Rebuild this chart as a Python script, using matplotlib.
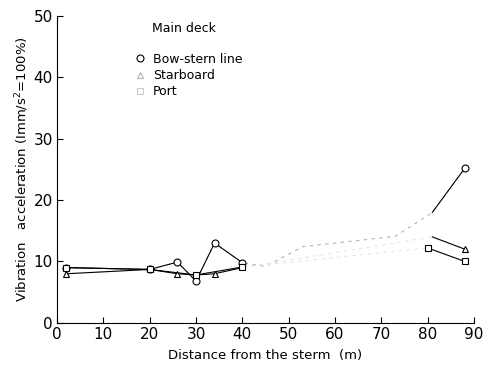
import matplotlib
matplotlib.use("Agg")
import matplotlib.pyplot as plt
from matplotlib.lines import Line2D

plt.rcParams['font.family'] = ['DejaVu Sans']

# distance from the stern (m) / vibration acceleration (%)
bow_x = [2, 20, 26, 30, 34, 40, 45, 53, 73, 81, 88]
bow_y = [9.0, 8.7, 9.9, 6.8, 13.0, 9.8, 9.2, 12.4, 14.1, 18.0, 25.2]
bow_marks = [0, 1, 2, 3, 4, 5, 10]

stb_x = [2, 20, 26, 30, 34, 40, 81, 88]
stb_y = [8.0, 8.7, 8.0, 7.8, 8.0, 9.0, 14.0, 12.0]
stb_marks = [0, 2, 4, 7]

port_x = [2, 20, 30, 40, 80, 88]
port_y = [9.0, 8.7, 7.8, 9.1, 12.2, 10.0]
port_marks = [0, 1, 2, 3, 4, 5]

fig = plt.figure(figsize=(4.85, 3.69), dpi=100)
ax = fig.add_axes([0.1175, 0.125, 0.86, 0.832])

def series(x, y, marker, marks, clear_to, faint):
  # whole line faint (scan faded), then the readable parts in black
  ax.plot(x, y, color=faint, lw=0.8, ls=(0, (3, 4)), zorder=1)
  ax.plot(x[:clear_to], y[:clear_to], color='black', lw=0.8, zorder=2)
  ax.plot(x[-2:], y[-2:], color='black', lw=0.8, zorder=2)
  ax.plot(x, y, ls='none', marker=marker, markevery=marks, ms=5,
          mfc='white', mec='black', mew=0.8, zorder=3)

series(bow_x, bow_y, 'o', bow_marks, 6, '0.7')
series(stb_x, stb_y, '^', stb_marks, 6, '0.9')
series(port_x, port_y, 's', port_marks, 4, '0.9')

ax.set_xlim(0, 90)
ax.set_ylim(0, 50)
ax.set_xticks(range(0, 91, 10))
ax.set_yticks(range(0, 51, 10))
ax.spines['top'].set_visible(False)
ax.spines['right'].set_visible(False)
ax.tick_params(direction='in', length=4, width=0.8, labelsize=11, pad=3)
ax.set_xlabel('Distance from the sterm  (m)', fontsize=9.5, labelpad=5)
ax.set_ylabel('Vibration   acceleration (Imm/s$^2$=100%)', fontsize=9.5, labelpad=2)

ax.text(20.5, 47.3, 'Main deck', fontsize=9)
handles = [
  Line2D([], [], ls='none', marker='o', ms=5, mfc='white', mec='black', mew=0.8),
  Line2D([], [], ls='none', marker='^', ms=5, mfc='white', mec='0.7', mew=0.8),
  Line2D([], [], ls='none', marker='s', ms=5, mfc='white', mec='0.8', mew=0.8),
]
ax.legend(handles, ['Bow-stern line', 'Starboard', 'Port'], loc='upper left',
          bbox_to_anchor=(0.17, 0.9), frameon=False, fontsize=9,
          handlelength=1.0, handletextpad=0.5, labelspacing=0.25, borderpad=0)

fig.savefig('out.png', dpi=100)
